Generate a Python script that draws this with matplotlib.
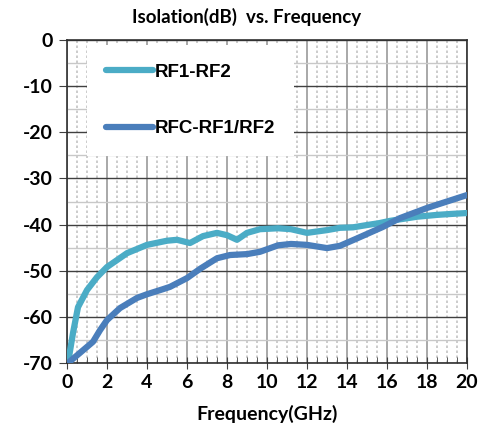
import matplotlib
matplotlib.use('Agg')
import matplotlib.pyplot as plt
import numpy as np
from matplotlib.ticker import MultipleLocator

plt.rcParams['axes.unicode_minus'] = False

# RF1-RF2 isolation
f_rf = [0.05, 0.3, 0.55, 1.0, 1.5, 2.0, 3.0, 4.0, 5.0, 5.5, 6.15, 6.8, 7.5, 8.0, 8.5,
        9.0, 9.65, 10.55, 11.2, 12.0, 12.5, 13.0, 13.65, 14.3, 15.0, 15.6, 16.15, 17.5,
        18.5, 19.2, 20.0]
iso_rf = [-70.0, -63.5, -57.9, -54.2, -51.4, -49.2, -46.2, -44.4, -43.5, -43.3, -44.0,
          -42.5, -41.8, -42.3, -43.3, -41.8, -41.0, -40.8, -41.0, -41.8, -41.5, -41.2,
          -40.7, -40.6, -40.1, -39.7, -39.2, -38.3, -37.9, -37.7, -37.5]

# RFC-RF1/RF2 isolation
f_rfc = [0.05, 0.65, 1.3, 1.65, 2.0, 2.65, 3.5, 4.0, 4.8, 5.15, 6.0, 6.65, 7.5, 8.15,
         9.0, 9.65, 10.55, 11.2, 12.0, 13.0, 13.65, 14.5, 15.8, 16.65, 18.0, 20.0]
iso_rfc = [-70.0, -67.8, -65.4, -62.9, -60.7, -58.1, -55.9, -55.1, -54.0, -53.5, -51.6,
           -49.6, -47.3, -46.6, -46.4, -45.9, -44.5, -44.2, -44.4, -45.1, -44.6, -43.0,
           -40.5, -38.6, -36.4, -33.6]

labels = ['RF1-RF2', 'RFC-RF1/RF2']
colors = ['#4BACC6', '#4A7EBB']

fig = plt.figure(figsize=(4.93, 4.38), dpi=100)
ax = fig.add_axes([67/493, 1-363/438, 400/493, 323/438])

ax.plot(f_rf, iso_rf, color=colors[0], lw=4.5, label=labels[0], solid_capstyle='round', zorder=3)
ax.plot(f_rfc, iso_rfc, color=colors[1], lw=4.5, label=labels[1], solid_capstyle='round', zorder=3)

ax.set_xlim(0, 20)
ax.set_ylim(-70, 0)
ax.xaxis.set_major_locator(MultipleLocator(2))
ax.xaxis.set_minor_locator(MultipleLocator(0.5))
ax.yaxis.set_major_locator(MultipleLocator(10))
ax.yaxis.set_minor_locator(MultipleLocator(5))

ax.grid(which='major', axis='x', color='#9a9a9a', lw=1.2)
ax.grid(which='minor', axis='x', color='#c4c4c4', lw=1.2, linestyle=(0, (1.5, 1.5)))
ax.grid(which='major', axis='y', color='#404040', lw=1.0)
ax.grid(which='minor', axis='y', color='#c8c8c8', lw=1.0)
ax.set_axisbelow(True)

for s in ax.spines.values():
    s.set_color('#303030')
    s.set_linewidth(1.2)

ax.tick_params(which='major', axis='x', direction='inout', length=8, color='#404040')
ax.tick_params(which='minor', axis='x', direction='in', length=4, color='#404040')
ax.tick_params(which='major', axis='y', direction='out', length=6, color='#404040')
ax.tick_params(which='minor', axis='y', length=0)
ax.tick_params(axis='both', labelsize=14, pad=4)
for lab in ax.get_xticklabels() + ax.get_yticklabels():
    lab.set_fontfamily('Lato')
    lab.set_fontweight('bold')

ax.set_xlabel('Frequency(GHz)', fontsize=14, fontweight='bold', family='Lato', labelpad=10)
fig.text(0.5, 0.962, 'Isolation(dB)  vs. Frequency', ha='center', va='center',
         fontsize=13.5, fontweight='bold', family='Lato')

leg = ax.legend(loc='upper left', bbox_to_anchor=(0.05, 0.985), frameon=True, fancybox=False,
                edgecolor='none', facecolor='white', framealpha=1.0,
                prop={'family': 'Liberation Sans', 'weight': 'bold', 'size': 13.5},
                handlelength=2.5, handletextpad=0.1, labelspacing=2.1, borderpad=1.0,
                borderaxespad=0)
leg.get_frame().set_linewidth(0)

fig.savefig('out.png', dpi=100)
